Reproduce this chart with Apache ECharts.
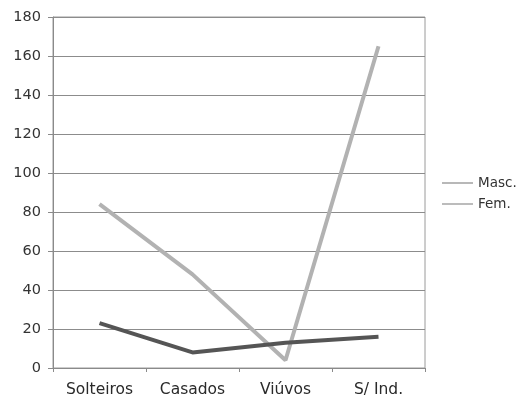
<!DOCTYPE html>
<html>
<head>
<meta charset="utf-8">
<script src="https://cdn.jsdelivr.net/npm/echarts@6/dist/echarts.min.js"></script>
<style>
  html, body { margin: 0; padding: 0; background: #fff; }
  #chart { width: 521px; height: 398px; }
</style>
</head>
<body>
<div id="chart"></div>
<script>
// Marital status categories and counts per sex
const categories = ['Solteiros', 'Casados', 'Viúvos', 'S/ Ind.'];
const masc = [84, 48, 4, 165];
const fem = [23, 8, 13, 16];
const yTicks = [0, 20, 40, 60, 80, 100, 120, 140, 160, 180];

const chart = echarts.init(document.getElementById('chart'), null, { renderer: 'canvas' });
const font = 'DejaVu Sans, Verdana, sans-serif';

chart.setOption({
  animation: false,
  backgroundColor: '#ffffff',
  grid: { left: 53, right: 96, top: 17, bottom: 30, show: true, borderColor: '#9a9a9a', borderWidth: 1 },
  legend: {
    orient: 'vertical',
    left: 442,
    top: 176,
    itemWidth: 31,
    itemHeight: 14,
    itemGap: 7,
    padding: 0,
    textStyle: { fontFamily: font, fontSize: 13.5, color: '#333' },
    data: [
      { name: 'Masc.', icon: 'path://M0,6 L31,6 L31,8 L0,8 Z', itemStyle: { color: '#b8b8b8' } },
      { name: 'Fem.', icon: 'path://M0,6.3 L31,6.3 L31,7.7 L0,7.7 Z', itemStyle: { color: '#a0a0a0' } }
    ]
  },
  xAxis: {
    type: 'category',
    data: categories,
    boundaryGap: true,
    axisLine: { lineStyle: { color: '#8a8a8a' } },
    axisTick: { show: true, alignWithLabel: false, length: 4, lineStyle: { color: '#8a8a8a' } },
    axisLabel: { fontFamily: font, fontSize: 15.5, color: '#2a2a2a', margin: 14 }
  },
  yAxis: {
    type: 'value',
    min: yTicks[0],
    max: yTicks[yTicks.length - 1],
    interval: 20,
    axisLine: { show: true, lineStyle: { color: '#8a8a8a' } },
    axisTick: { show: true, length: 5, lineStyle: { color: '#8a8a8a' } },
    axisLabel: { fontFamily: font, fontSize: 14.5, color: '#333', margin: 12 },
    splitLine: { lineStyle: { color: '#8c8c8c', width: 1 } }
  },
  series: [
    {
      name: 'Masc.',
      type: 'line',
      data: masc,
      symbol: 'none',
      lineStyle: { color: '#b2b2b2', width: 4 },
      itemStyle: { color: '#b2b2b2' },
      z: 2
    },
    {
      name: 'Fem.',
      type: 'line',
      data: fem,
      symbol: 'none',
      lineStyle: { color: '#555555', width: 4 },
      itemStyle: { color: '#555555' },
      z: 3
    }
  ]
});
</script>
</body>
</html>
